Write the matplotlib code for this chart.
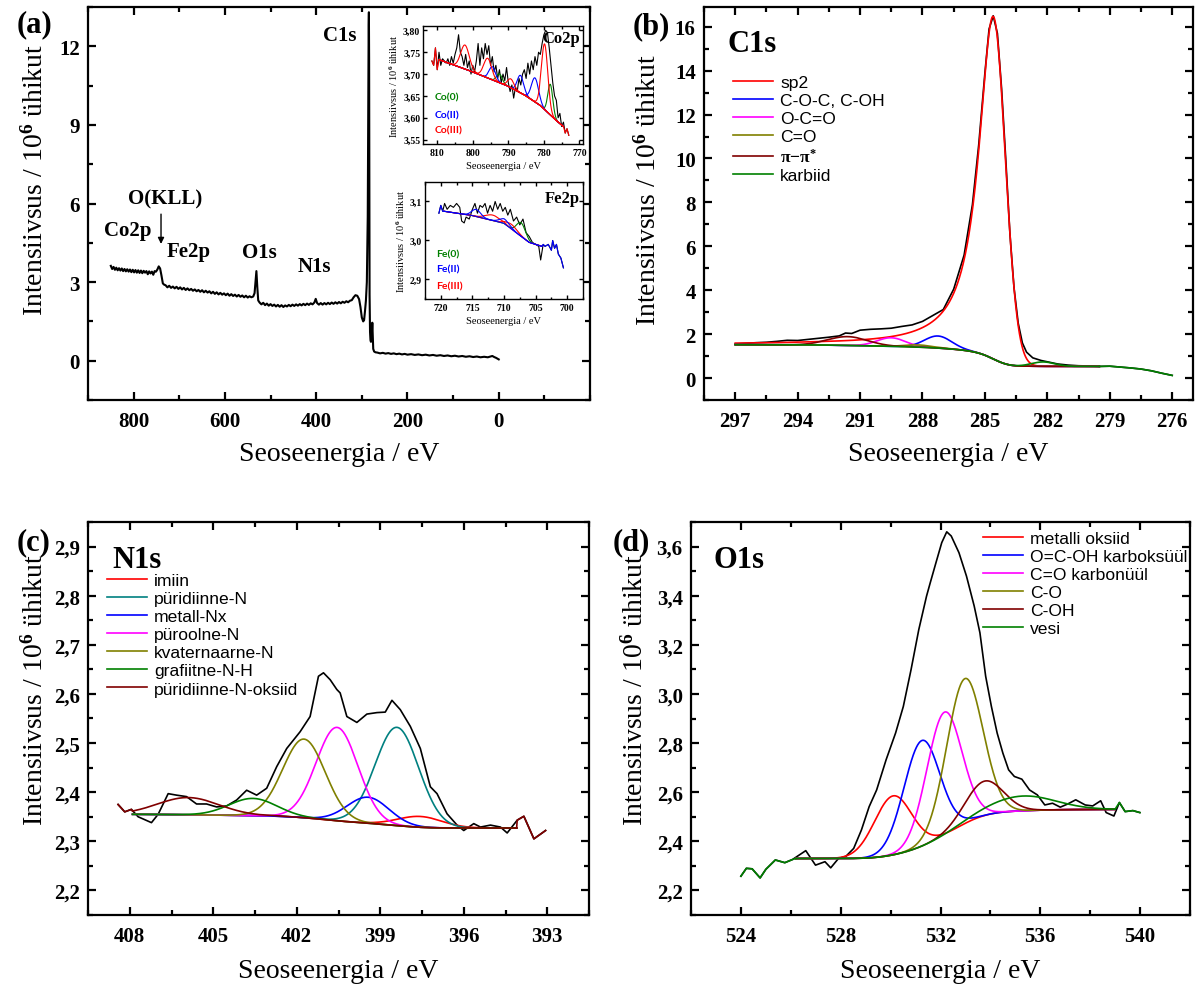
import numpy as np
import matplotlib.pyplot as plt
from matplotlib.ticker import MultipleLocator, FixedLocator, FuncFormatter

W, H = 1203, 987
SERIF = "Liberation Serif"
SANS = "Liberation Sans"

plt.rcParams.update({
    "font.family": SERIF,
    "font.weight": "bold",
    "mathtext.fontset": "custom",
    "mathtext.rm": SERIF,
    "mathtext.bf": SERIF + ":bold",
    "mathtext.it": SERIF + ":italic",
    "axes.linewidth": 1.6,
})

RED, BLUE, MAGENTA, OLIVE = "#ff0000", "#0000ff", "#ff00ff", "#808000"
DARKRED, GREEN, TEAL = "#800000", "#008000", "#008080"
YLABEL = "Intensiivsus / 10$^{\\mathbf{6}}$ ühikut"
XLABEL = "Seoseenergia / eV"

# ---------------- (a) survey spectrum ----------------
survey_ev = [
    850, 847, 844, 841, 838, 835, 832, 829, 826, 823, 820, 817, 814, 811, 808, 805,
    802, 799, 796, 793, 790, 787, 784, 781, 778, 775, 772, 769, 766, 763, 760, 757,
    754, 751, 748, 745, 742, 739, 736, 733,
    730, 726, 722, 718, 714, 710, 706, 702, 698, 694, 690, 686, 682, 678, 674, 670,
    666, 662, 658, 654, 650, 646, 642, 638, 634, 630, 626, 622, 618, 614, 610, 606,
    602, 598, 594, 590, 586, 582, 578, 574, 570, 566, 562, 558, 554, 550, 546, 542,
    538, 535, 533, 531, 529, 527,
    524, 520, 516, 512, 508, 504, 500, 496, 492, 488, 484, 480, 476, 472, 468, 464,
    460, 456, 452, 448, 444, 440, 436, 432, 428, 424, 420, 416, 412, 408, 404, 401,
    398, 394, 390, 386, 382, 378, 374, 370, 366, 362, 358, 354, 350, 346, 342, 338,
    334, 330, 326, 322, 318, 314, 310, 306, 303, 300, 297, 295, 293, 291, 289, 287,
    286, 285, 284.5, 284, 283.5, 283, 282, 281, 280, 279, 278, 277, 276, 275, 273,
    270, 266, 260, 254, 248, 242, 236, 230, 224, 218, 212, 206, 200, 192, 184, 176,
    168, 160, 152, 144, 136, 128, 120, 112, 104, 96, 88, 80, 72, 64, 56, 48, 40, 32,
    24, 18, 14, 10, 6, 3, 0,
]
survey_counts = [
    3.62, 3.50, 3.58, 3.47, 3.55, 3.45, 3.53, 3.44, 3.52, 3.42, 3.50, 3.41, 3.49, 3.40, 3.48, 3.38,
    3.47, 3.37, 3.46, 3.36, 3.45, 3.35, 3.44, 3.34, 3.43, 3.36, 3.42, 3.30, 3.41, 3.33, 3.40, 3.28,
    3.42, 3.40, 3.48, 3.60, 3.52, 3.25, 2.95, 2.90,
    2.88, 2.80, 2.86, 2.78, 2.83, 2.76, 2.82, 2.74, 2.80, 2.72, 2.78, 2.70, 2.76, 2.69, 2.74, 2.67,
    2.72, 2.65, 2.70, 2.63, 2.69, 2.61, 2.67, 2.60, 2.65, 2.57, 2.63, 2.55, 2.61, 2.53, 2.59, 2.52,
    2.57, 2.50, 2.56, 2.48, 2.54, 2.47, 2.52, 2.45, 2.51, 2.44, 2.49, 2.42, 2.48, 2.41, 2.46, 2.42,
    2.45, 2.58, 3.00, 3.42, 2.80, 2.30,
    2.22, 2.15, 2.21, 2.12, 2.18, 2.10, 2.16, 2.09, 2.14, 2.07, 2.13, 2.06, 2.12, 2.05, 2.11, 2.07,
    2.13, 2.08, 2.14, 2.09, 2.15, 2.10, 2.16, 2.11, 2.17, 2.12, 2.18, 2.13, 2.19, 2.15, 2.22, 2.36,
    2.20, 2.14, 2.20, 2.14, 2.20, 2.15, 2.21, 2.16, 2.22, 2.17, 2.23, 2.18, 2.24, 2.19, 2.25, 2.21,
    2.27, 2.23, 2.29, 2.31, 2.42, 2.50, 2.48, 2.35, 2.05, 1.65, 1.50, 1.55, 1.90, 2.30, 3.00, 5.50,
    9.00, 12.8, 13.3, 11.5, 6.00, 2.50, 1.10, 0.78, 0.72, 0.80, 1.05, 1.45, 0.90, 0.45, 0.35,
    0.32, 0.31, 0.28, 0.30, 0.27, 0.29, 0.26, 0.28, 0.25, 0.27, 0.24, 0.26, 0.23, 0.25, 0.22, 0.24,
    0.21, 0.23, 0.20, 0.22, 0.19, 0.21, 0.18, 0.20, 0.17, 0.19, 0.16, 0.18, 0.15, 0.17, 0.14, 0.16, 0.13, 0.15,
    0.13, 0.16, 0.18, 0.14, 0.11, 0.08, 0.05,
]
survey_labels = ["C1s", "O(KLL)", "Co2p", "Fe2p", "O1s", "N1s"]
survey_label_ev = [348, 731, 812, 679, 525, 405]
survey_label_y = [12.45, 6.2, 5.0, 4.2, 4.15, 3.6]

# Co2p inset
co_ev = [
    811.5, 811, 810.5, 810, 809.5, 809, 808.5, 808, 807.5, 807, 806.5, 806, 805.5, 805,
    804.5, 804, 803.5, 803, 802.5, 802, 801.5, 801, 800.5, 800, 799.5, 799, 798.5, 798,
    797.5, 797, 796.5, 796, 795.5, 795, 794.5, 794, 793.5, 793, 792.5, 792, 791.5, 791,
    790.5, 790, 789.5, 789, 788.5, 788, 787.5, 787, 786.5, 786, 785.5, 785, 784.5, 784,
    783.5, 783, 782.5, 782, 781.5, 781, 780.5, 780, 779.5, 779, 778.5, 778, 777.5, 777,
    776.5, 776, 775.5, 775, 774.5, 774, 773.5, 773,
]
co_counts = [
    3.73, 3.72, 3.76, 3.71, 3.75, 3.72, 3.735, 3.73, 3.725, 3.735, 3.72, 3.74, 3.725, 3.745,
    3.76, 3.79, 3.75, 3.74, 3.72, 3.745, 3.715, 3.73, 3.70, 3.72, 3.705, 3.73, 3.77, 3.72,
    3.76, 3.735, 3.77, 3.745, 3.765, 3.72, 3.74, 3.705, 3.72, 3.69, 3.71, 3.68, 3.70, 3.685,
    3.715, 3.68, 3.66, 3.675, 3.645, 3.67, 3.66, 3.69, 3.675, 3.70, 3.71, 3.69, 3.725, 3.70,
    3.73, 3.71, 3.74, 3.72, 3.75, 3.745, 3.77, 3.79, 3.80, 3.795, 3.76, 3.72, 3.68, 3.65,
    3.64, 3.60, 3.61, 3.58, 3.59, 3.565, 3.575, 3.56,
]
co_fit = (774.5, 809.5)
co_bg_ev = [774.5, 776, 778, 781, 785, 790, 800, 809.5]
co_bg_val = [3.58, 3.59, 3.605, 3.628, 3.65, 3.672, 3.705, 3.733]
co_names = ["Co(0)", "Co(II)", "Co(III)"]
co_colors = [GREEN, BLUE, RED]
co_centers = [[792.5, 778.2], [794.5, 786.6, 782.5], [802.2, 795.8, 789.3, 779.8]]
co_heights = [[0.02, 0.07], [0.03, 0.04, 0.055], [0.055, 0.045, 0.02, 0.15]]
co_sigmas = [[0.8, 0.7], [0.9, 0.9, 1.0], [1.2, 1.1, 0.9, 0.9]]

# Fe2p inset
fe_ev = [
    720.3, 720, 719.7, 719.4, 719, 718.5, 718, 717.5, 717, 716.7, 716.3, 716, 715.5, 715,
    714.6, 714.2, 713.8, 713.4, 713, 712.6, 712.2, 711.8, 711.4, 711, 710.6, 710.2, 709.8,
    709.4, 709, 708.5, 708, 707.5, 707, 706.5, 706, 705.5, 705, 704.5, 704.2, 703.8, 703.5,
    703, 702.5, 702.3, 702, 701.7, 701.4, 701, 700.6,
]
fe_counts = [
    3.07, 3.09, 3.075, 3.095, 3.08, 3.09, 3.085, 3.095, 3.085, 3.05, 3.045, 3.06, 3.055, 3.08,
    3.095, 3.07, 3.09, 3.085, 3.095, 3.07, 3.09, 3.075, 3.10, 3.08, 3.095, 3.075, 3.085,
    3.065, 3.08, 3.05, 3.06, 3.04, 3.055, 3.02, 3.01, 2.995, 2.99, 2.985, 2.95, 2.99, 2.985,
    2.99, 2.975, 3.0, 2.98, 2.99, 2.965, 2.955, 2.93,
]
fe_fit = (704.0, 719.5)
fe_bg_ev = [704.0, 706.0, 707.5, 710.0, 715.0, 719.5]
fe_bg_val = [2.985, 2.995, 3.013, 3.044, 3.064, 3.075]
fe_names = ["Fe(0)", "Fe(II)", "Fe(III)"]
fe_colors = [GREEN, RED, BLUE]
fe_centers = [[707.3], [711.8, 708.8], [714.4, 709.9]]
fe_heights = [[0.035], [0.014, 0.012], [0.018, 0.012]]
fe_sigmas = [[0.7], [1.1, 0.9], [0.7, 0.8]]

# ---------------- (b) C1s ----------------
c1s_ev = [
    297.0, 296.5, 296.0, 295.5, 295.0, 294.5, 294.0, 293.5, 293.0, 292.5, 292.0, 291.7,
    291.4, 291.0, 290.5, 290.0, 289.5, 289.0, 288.5, 288.0, 287.5, 287.0, 286.5, 286.0,
    285.6, 285.3, 285.0, 284.8, 284.6, 284.4, 284.2, 284.0, 283.8, 283.6, 283.4, 283.2,
    283.0, 282.7, 282.3, 281.9, 281.5, 281.0, 280.5, 280.0, 279.5, 279.0, 278.5, 278.0,
    277.5, 277.0, 276.5, 276.0,
]
c1s_counts = [
    1.55, 1.58, 1.61, 1.63, 1.67, 1.72, 1.71, 1.76, 1.81, 1.86, 1.92, 2.05,
    2.03, 2.18, 2.22, 2.24, 2.27, 2.35, 2.42, 2.58, 2.85, 3.12, 4.05, 5.6,
    7.9, 10.6, 13.9, 15.9, 16.5, 15.7, 13.2, 10.0, 6.6, 4.1, 2.5, 1.6,
    1.18, 0.92, 0.80, 0.72, 0.64, 0.59, 0.56, 0.55, 0.53, 0.54, 0.50, 0.46,
    0.41, 0.33, 0.22, 0.12,
]
c1s_fit = (279.5, 297.0)
c1s_bg = (0.53, 1.52)
c1s_labels = ["sp2", "C-O-C, C-OH", "O-C=O", "C=O", "$\\mathrm{\\pi{-}\\pi^{*}}$", "karbiid"]
c1s_colors = [RED, BLUE, MAGENTA, OLIVE, DARKRED, GREEN]
c1s_centers = [284.6, 287.25, 289.5, 288.2, 291.6, 282.2]
c1s_heights = [15.6, 0.55, 0.39, 0.10, 0.40, 0.20]
c1s_widths = [0.84, 0.65, 0.68, 0.65, 0.95, 0.55]
sp2_low_side_sigma = 0.58

# ---------------- (c) N1s ----------------
n1s_ev = [
    408.42, 408.18, 407.94, 407.70, 407.46, 407.22, 406.98, 406.62, 406.32, 405.96,
    405.60, 405.24, 404.88, 404.52, 404.16, 403.80, 403.44, 403.08, 402.72, 402.36,
    401.88, 401.52, 401.22, 401.04, 400.80, 400.56, 400.44, 400.20, 399.84, 399.48,
    399.12, 398.82, 398.58, 398.28, 397.92, 397.56, 397.20, 396.96, 396.60, 396.24,
    396.00, 395.64, 395.40, 395.04, 394.68, 394.44, 394.08, 393.84, 393.48, 393.06,
]
n1s_counts = [
    2.375, 2.360, 2.365, 2.350, 2.344, 2.338, 2.355, 2.397, 2.394, 2.391,
    2.376, 2.376, 2.370, 2.372, 2.384, 2.404, 2.394, 2.408, 2.452, 2.489,
    2.523, 2.554, 2.636, 2.643, 2.629, 2.609, 2.602, 2.554, 2.542, 2.559,
    2.562, 2.563, 2.587, 2.568, 2.534, 2.489, 2.411, 2.397, 2.356, 2.333,
    2.322, 2.336, 2.329, 2.333, 2.329, 2.317, 2.343, 2.351, 2.305, 2.322,
]
n1s_fit = (394.1, 407.9)
n1s_bg = (2.327, 2.355)
n1s_labels = ["imiin", "püridiinne-N", "metall-Nx", "püroolne-N", "kvaternaarne-N",
              "grafiitne-N-H", "püridiinne-N-oksiid"]
n1s_colors = [RED, TEAL, BLUE, MAGENTA, OLIVE, GREEN, DARKRED]
n1s_centers = [397.57, 398.4, 399.44, 400.55, 401.74, 403.58, 405.9]
n1s_heights = [0.022, 0.200, 0.053, 0.190, 0.160, 0.035, 0.035]
n1s_sigmas = [0.80, 0.78, 0.75, 0.75, 0.76, 0.85, 1.10]

# ---------------- (d) O1s ----------------
o1s_ev = [
    524.0, 524.22, 524.45, 524.77, 525.0, 525.38, 525.76, 526.07, 526.6, 526.99,
    527.37, 527.6, 527.91, 528.21, 528.52, 528.83, 529.14, 529.44, 529.82, 530.2,
    530.51, 530.82, 531.13, 531.44, 531.59, 531.82, 532.05, 532.25, 532.43, 532.74,
    533.04, 533.35, 533.58, 533.81, 534.04, 534.27, 534.5, 534.73, 534.96, 535.26,
    535.57, 535.88, 536.18, 536.49, 536.8, 537.1, 537.42, 537.8, 538.1, 538.42,
    538.64, 538.95, 539.17, 539.4, 539.71, 539.99,
]
o1s_counts = [
    2.258, 2.290, 2.288, 2.251, 2.286, 2.324, 2.313, 2.326, 2.362, 2.303,
    2.317, 2.292, 2.330, 2.339, 2.371, 2.446, 2.541, 2.609, 2.732, 2.841,
    2.949, 3.099, 3.262, 3.398, 3.453, 3.535, 3.616, 3.660, 3.643, 3.575,
    3.480, 3.358, 3.249, 3.072, 2.949, 2.841, 2.759, 2.691, 2.664, 2.653,
    2.609, 2.589, 2.548, 2.555, 2.539, 2.552, 2.569, 2.548, 2.544, 2.565,
    2.517, 2.503, 2.558, 2.521, 2.525, 2.517,
]
o1s_fit = (526.2, 539.0)
o1s_bg = (2.33, 2.53)
o1s_labels = ["metalli oksiid", "O=C-OH karboksüül", "C=O karbonüül", "C-O", "C-OH", "vesi"]
o1s_colors = [RED, BLUE, MAGENTA, OLIVE, DARKRED, GREEN]
o1s_centers = [530.1, 531.25, 532.15, 532.97, 533.75, 535.3]
o1s_heights = [0.24, 0.43, 0.50, 0.59, 0.14, 0.06]
o1s_sigmas = [0.75, 0.72, 0.70, 0.72, 0.75, 1.30]


def gauss(x, c, h, s):
    return h * np.exp(-0.5 * ((x - c) / s) ** 2)


def sp2_peak(x, c, h, w_high, s_low):
    # Lorentzian tail on the high binding energy side, Gaussian on the low side
    return np.where(x > c, h / (1 + ((x - c) / w_high) ** 2), gauss(x, c, h, s_low))


def shirley(x, total, lo, hi):
    cum = np.cumsum(total)
    return lo + (hi - lo) * cum / cum[-1]


def axes_px(fig, left, top, right, bottom):
    return fig.add_axes([left / W, 1 - bottom / H, (right - left) / W, (bottom - top) / H])


def comma(decimals):
    return FuncFormatter(lambda v, pos: f"{v:.{decimals}f}".replace(".", ","))


def style(ax, size=15, lw=1.6, major=6, minor=3.5, xpad=8, ypad=6):
    ax.tick_params(which="both", direction="in", top=True, right=True, width=lw)
    ax.tick_params(which="major", length=major)
    ax.tick_params(which="minor", length=minor)
    ax.tick_params(axis="x", labelsize=size, pad=xpad)
    ax.tick_params(axis="y", labelsize=size, pad=ypad)
    for sp in ax.spines.values():
        sp.set_linewidth(lw)


def end_segments(ax, ev, counts, lo, hi, first, last, color, lw):
    ev = np.asarray(ev)
    counts = np.asarray(counts)
    m = ev < lo
    xs = np.append(ev[m], lo)
    ys = np.append(counts[m], first)
    o = np.argsort(xs)
    ax.plot(xs[o], ys[o], color=color, lw=lw)
    m = ev > hi
    xs = np.append(hi, ev[m])
    ys = np.append(last, counts[m])
    o = np.argsort(xs)
    ax.plot(xs[o], ys[o], color=color, lw=lw)


def fit_panel(ax, ev, counts, fit, bg_ends, curves, colors, lw=1.2):
    x = np.linspace(fit[0], fit[1], 1500)
    peaks = [f(x) for f in curves]
    bg = shirley(x, np.sum(peaks, axis=0), bg_ends[0], bg_ends[1])
    ax.plot(ev, counts, color="black", lw=lw)
    handles = []
    for p, col in zip(peaks, colors):
        (ln,) = ax.plot(x, bg + p, color=col, lw=lw)
        handles.append(ln)
    last = bg + peaks[-1]
    end_segments(ax, ev, counts, fit[0], fit[1], last[0], last[-1], colors[-1], lw)
    return handles


def legend_px(fig, ax, handles, labels, left, top):
    ax.legend(handles, labels, loc="upper left", bbox_to_anchor=(left / W, 1 - top / H),
              bbox_transform=fig.transFigure, frameon=False,
              prop=dict(family=SANS, size=12.6, weight="normal"),
              handlelength=2.3, handletextpad=0.4, labelspacing=0.16,
              borderpad=0, borderaxespad=0)


def labels_px(ax, xc, yc, ax_box, xlab_y):
    left, top, right, bottom = ax_box
    ax.set_ylabel(YLABEL, fontsize=20)
    ax.yaxis.set_label_coords((xc - left) / (right - left), 1 - (yc - top) / (bottom - top))
    ax.set_xlabel(XLABEL, fontsize=20)
    ax.xaxis.set_label_coords(0.5, -(xlab_y - bottom) / (bottom - top))
    ax.xaxis.label.set_va("center")
    ax.yaxis.label.set_va("center")


def inset(fig, box, ev, counts, fit, bg_ev, bg_val, colors, centers, heights, sigmas, end_color):
    ax = axes_px(fig, *box)
    x = np.linspace(fit[0], fit[1], 500)
    bg = np.interp(x, bg_ev, bg_val)
    ax.plot(ev, counts, color="black", lw=0.8)
    for col, cs, hs, ss in zip(colors, centers, heights, sigmas):
        for c, h, s in zip(cs, hs, ss):
            ax.plot(x, bg + gauss(x, c, h, s), color=col, lw=0.8)
    end_segments(ax, ev, counts, fit[0], fit[1], bg[0], bg[-1], end_color, 0.8)
    style(ax, size=7, lw=1.0, major=3, minor=1.8, xpad=3, ypad=2)
    ax.set_ylabel(YLABEL, fontsize=7.5, labelpad=2)
    ax.set_xlabel(XLABEL, fontsize=7.5, labelpad=3)
    return ax


fig = plt.figure(figsize=(W / 100, H / 100), dpi=100)

# (a)
box_a = (88, 8, 590, 401)
ax_a = axes_px(fig, *box_a)
ax_a.plot(survey_ev, survey_counts, color="black", lw=1.5)
ax_a.set_xlim(900, -200)
ax_a.set_ylim(-1.5, 13.5)
ax_a.xaxis.set_major_locator(FixedLocator([800, 600, 400, 200, 0]))
ax_a.xaxis.set_minor_locator(MultipleLocator(100))
ax_a.yaxis.set_major_locator(MultipleLocator(3))
ax_a.yaxis.set_minor_locator(MultipleLocator(1.5))
style(ax_a)
labels_px(ax_a, 35, 180, box_a, 455)
for name, xe, ye in zip(survey_labels, survey_label_ev, survey_label_y):
    ax_a.text(xe, ye, name, fontsize=15, ha="center", va="center")
ax_a.annotate("", xy=(740, 4.35), xytext=(740, 5.7),
              arrowprops=dict(arrowstyle="-|>", color="black", lw=1.0, mutation_scale=9))

ax_co = inset(fig, (423, 27, 583, 145), co_ev, co_counts, co_fit, co_bg_ev, co_bg_val,
              co_colors, co_centers, co_heights, co_sigmas, RED)
ax_co.set_xlim(814, 769)
ax_co.set_ylim(3.54, 3.81)
ax_co.xaxis.set_major_locator(MultipleLocator(10))
ax_co.xaxis.set_minor_locator(MultipleLocator(5))
ax_co.yaxis.set_major_locator(MultipleLocator(0.05))
ax_co.yaxis.set_major_formatter(comma(2))
ax_co.text(0.98, 0.97, "Co2p", transform=ax_co.transAxes, fontsize=12, ha="right", va="top")
for name, col, yf in zip(co_names, co_colors, [0.40, 0.245, 0.12]):
    ax_co.text(0.07, yf, name, transform=ax_co.transAxes, color=col, fontsize=7.5,
               family="Lato", weight="bold", va="center")

ax_fe = inset(fig, (425, 183, 583, 300), fe_ev, fe_counts, fe_fit, fe_bg_ev, fe_bg_val,
              fe_colors, fe_centers, fe_heights, fe_sigmas, BLUE)
ax_fe.set_xlim(722.5, 697.5)
ax_fe.set_ylim(2.85, 3.15)
ax_fe.xaxis.set_major_locator(MultipleLocator(5))
ax_fe.xaxis.set_minor_locator(MultipleLocator(2.5))
ax_fe.yaxis.set_major_locator(MultipleLocator(0.1))
ax_fe.yaxis.set_major_formatter(comma(1))
ax_fe.text(0.98, 0.86, "Fe2p", transform=ax_fe.transAxes, fontsize=12, ha="right", va="center")
for name, col, yf in zip(fe_names, [GREEN, BLUE, RED], [0.385, 0.256, 0.11]):
    ax_fe.text(0.07, yf, name, transform=ax_fe.transAxes, color=col, fontsize=7.5,
               family="Lato", weight="bold", va="center")

# (b)
box_b = (704, 8, 1193, 401)
ax_b = axes_px(fig, *box_b)
c1s_curves = [lambda x: sp2_peak(x, c1s_centers[0], c1s_heights[0], c1s_widths[0], sp2_low_side_sigma)]
c1s_curves += [lambda x, c=c, h=h, s=s: gauss(x, c, h, s)
               for c, h, s in zip(c1s_centers[1:], c1s_heights[1:], c1s_widths[1:])]
hb = fit_panel(ax_b, c1s_ev, c1s_counts, c1s_fit, c1s_bg, c1s_curves, c1s_colors)
ax_b.set_xlim(298.5, 275.0)
ax_b.set_ylim(-1, 16.9)
ax_b.xaxis.set_major_locator(MultipleLocator(3))
ax_b.xaxis.set_minor_locator(MultipleLocator(1.5))
ax_b.yaxis.set_major_locator(MultipleLocator(2))
ax_b.yaxis.set_minor_locator(MultipleLocator(1))
style(ax_b)
labels_px(ax_b, 648, 190, box_b, 455)
legend_px(fig, ax_b, hb, c1s_labels, 733, 76)

# (c)
box_c = (88, 523, 589, 916)
ax_c = axes_px(fig, *box_c)
n1s_curves = [lambda x, c=c, h=h, s=s: gauss(x, c, h, s)
              for c, h, s in zip(n1s_centers, n1s_heights, n1s_sigmas)]
hc = fit_panel(ax_c, n1s_ev, n1s_counts, n1s_fit, n1s_bg, n1s_curves, n1s_colors)
ax_c.set_xlim(409.5, 391.5)
ax_c.set_ylim(2.15, 2.95)
ax_c.xaxis.set_major_locator(MultipleLocator(3))
ax_c.xaxis.set_minor_locator(MultipleLocator(1.5))
ax_c.yaxis.set_major_locator(MultipleLocator(0.1))
ax_c.yaxis.set_minor_locator(MultipleLocator(0.05))
ax_c.yaxis.set_major_formatter(comma(1))
style(ax_c)
labels_px(ax_c, 35, 690, box_c, 972)
legend_px(fig, ax_c, hc, n1s_labels, 107, 574)

# (d)
box_d = (691, 523, 1190, 916)
ax_d = axes_px(fig, *box_d)
o1s_curves = [lambda x, c=c, h=h, s=s: gauss(x, c, h, s)
              for c, h, s in zip(o1s_centers, o1s_heights, o1s_sigmas)]
hd = fit_panel(ax_d, o1s_ev, o1s_counts, o1s_fit, o1s_bg, o1s_curves, o1s_colors)
ax_d.set_xlim(522, 542)
ax_d.set_ylim(2.1, 3.7)
ax_d.xaxis.set_major_locator(MultipleLocator(4))
ax_d.xaxis.set_minor_locator(MultipleLocator(2))
ax_d.yaxis.set_major_locator(MultipleLocator(0.2))
ax_d.yaxis.set_minor_locator(MultipleLocator(0.1))
ax_d.yaxis.set_major_formatter(comma(1))
style(ax_d)
labels_px(ax_d, 635, 690, box_d, 972)
legend_px(fig, ax_d, hd, o1s_labels, 983, 532)

# panel letters and core-level titles
for txt, xp, yp in [("(a)", 35, 25), ("(b)", 651, 27), ("(c)", 34, 543), ("(d)", 631, 543),
                    ("C1s", 752, 45), ("N1s", 137, 560), ("O1s", 739, 560)]:
    fig.text(xp / W, 1 - yp / H, txt, fontsize=22, ha="center", va="center")

fig.savefig("out.png", dpi=100)
